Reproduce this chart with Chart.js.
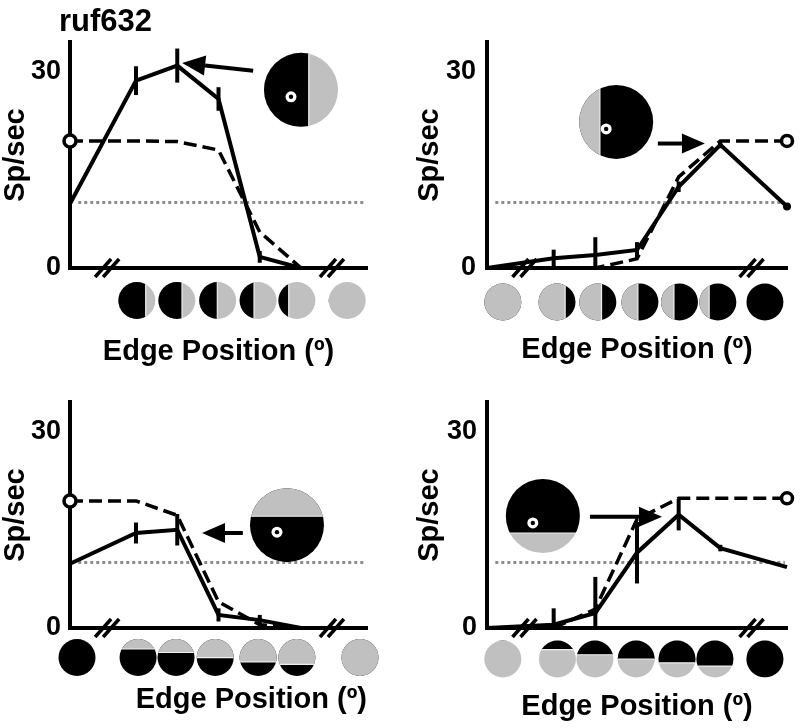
<!DOCTYPE html>
<html>
<head>
<meta charset="utf-8">
<title>ruf632 edge position tuning</title>
<script src="https://cdn.jsdelivr.net/npm/chart.js@4.4.1/dist/chart.umd.min.js"></script>
<style>
    html, body { margin: 0; padding: 0; background: #fff; }
    #wrap { position: relative; width: 801px; height: 728px; }
    #wrap canvas { position: absolute; left: 0; top: 0; }
</style>
</head>
<body>
<div id="wrap">
    <canvas id="p1" width="801" height="728"></canvas>
    <canvas id="p2" width="801" height="728"></canvas>
    <canvas id="p3" width="801" height="728"></canvas>
    <canvas id="p4" width="801" height="728"></canvas>
</div>
<script>
const FONT = "'Liberation Sans', Arial, Helvetica, sans-serif";
const GRAY = '#c0c0c0';

// edge positions tested (same for all four panels, axis broken at both ends)
const xPos = [0, 1.6, 2.6, 3.6, 4.6, 5.6, 7.2];
const yTicks = [0, 30];
const spontaneous = 10;      // dotted line
const breakAt = [0.9, 6.35];

// top-left: vertical edge, black on the left
const p1Solid = [9.8, 28.6, 30.9, 25.8, 1.7, 0, 0];
const p1Err = [0, 2.2, 2.6, 1.8, 0.9, 0, 0];
const p1Dash = [19.4, 19.4, 19.3, 18.0, 5.5, 0, 0];
const p1StimX = [1.62, 2.59, 3.58, 4.56, 5.5, 6.72];
const p1StimEdge = [0.48, 0.28, -0.02, -0.22, -0.44, -1];

// top-right: vertical edge, black on the right
const p2Solid = [0, 1.5, 2.0, 2.75, 12.4, 18.8, 9.4];
const p2Err = [0, 1.3, 2.7, 1.2, 0.8, 0.5, 0];
const p2Dash = [null, 0, 0, 1.4, 13.9, 19.4, 19.4];
const p2StimX = [0.38, 1.68, 2.66, 3.67, 4.62, 5.54, 6.67];
const p2StimEdge = [1, 0.44, 0.2, -0.11, -0.3, -0.47, -1];

// bottom-left: horizontal edge, black below
const p3Solid = [9.8, 14.5, 15.0, 2.0, 1.2, 0, 0];
const p3Err = [0, 1.6, 2.4, 1.0, 0.8, 0, 0];
const p3Dash = [19.4, 19.4, 17.2, 4.0, 0.5, 0, 0];
const p3StimX = [0.17, 1.65, 2.57, 3.52, 4.56, 5.5, 7.03];
const p3StimEdge = [-1, -0.47, -0.27, 0.01, 0.24, 0.37, 1];

// bottom-right: horizontal edge, black above
const p4Solid = [0, 0.5, 2.3, 11.5, 17.3, 12.2, 9.3];
const p4Err = [0, 2.5, 5.5, 4.7, 2.4, 0.5, 0];
const p4Dash = [null, 0, 2.9, 16.6, 19.8, null, 19.8];
const p4StimX = [0.38, 1.69, 2.59, 3.58, 4.56, 5.47, 6.67];
const p4StimEdge = [-1, -0.51, -0.23, 0, 0.21, 0.38, 1];

/**
 * Disc with a straight edge. orient 'v': colA left of edge, 'h': colA above.
 * f = edge offset in radius units (-1..1)
 */
function drawDisc(ctx, cx, cy, r, orient, f, colA, colB) {
    ctx.save();
    ctx.beginPath();
    ctx.arc(cx, cy, r, 0, Math.PI * 2);
    ctx.clip();
    ctx.fillStyle = colB;
    ctx.fillRect(cx - r - 1, cy - r - 1, 2 * r + 2, 2 * r + 2);
    ctx.fillStyle = colA;
    const e = f * r;
    if (orient === 'v') {
        ctx.fillRect(cx - r - 1, cy - r - 1, e + r + 1, 2 * r + 2);
    } else {
        ctx.fillRect(cx - r - 1, cy - r - 1, 2 * r + 2, e + r + 1);
    }
    // thin light seam between the two halves
    if (Math.abs(f) < 1) {
        ctx.strokeStyle = '#eeeeee';
        ctx.lineWidth = 1.2;
        ctx.beginPath();
        if (orient === 'v') {
            ctx.moveTo(cx + e, cy - r);
            ctx.lineTo(cx + e, cy + r);
        } else {
            ctx.moveTo(cx - r, cy + e);
            ctx.lineTo(cx + r, cy + e);
        }
        ctx.stroke();
    }
    ctx.restore();
}

function drawArrow(ctx, x0, y0, x1, y1) {
    const ang = Math.atan2(y1 - y0, x1 - x0);
    const head = 23, half = 10;
    const bx = x1 - head * Math.cos(ang);
    const by = y1 - head * Math.sin(ang);
    ctx.lineWidth = 4;
    ctx.beginPath();
    ctx.moveTo(x0, y0);
    ctx.lineTo(bx, by);
    ctx.stroke();
    ctx.beginPath();
    ctx.moveTo(x1, y1);
    ctx.lineTo(bx + half * Math.sin(ang), by - half * Math.cos(ang));
    ctx.lineTo(bx - half * Math.sin(ang), by + half * Math.cos(ang));
    ctx.closePath();
    ctx.fill();
}

// error bars, axis breaks, stimulus icons, inset and arrow
const decor = {
    id: 'decor',
    afterDatasetsDraw(chart, args, o) {
        const { ctx, scales: { x, y } } = chart;
        ctx.save();
        ctx.strokeStyle = '#000';
        ctx.lineWidth = 4;
        o.err.forEach((e, i) => {
            if (!e) return;
            const v = o.solid[i];
            const px = x.getPixelForValue(xPos[i]);
            ctx.beginPath();
            ctx.moveTo(px, y.getPixelForValue(v + e));
            ctx.lineTo(px, y.getPixelForValue(Math.max(0, v - e)));
            ctx.stroke();
        });
        ctx.restore();
    },
    afterDraw(chart, args, o) {
        const { ctx, scales: { x, y } } = chart;
        const y0 = y.getPixelForValue(0);
        ctx.save();
        ctx.strokeStyle = '#000';
        ctx.fillStyle = '#000';

        // "//" breaks on the x axis
        ctx.lineWidth = 3.5;
        breakAt.forEach(b => {
            const bx = x.getPixelForValue(b);
            [-4, 4].forEach(off => {
                ctx.beginPath();
                ctx.moveTo(bx + off - 8, y0 + 9);
                ctx.lineTo(bx + off + 8, y0 - 9);
                ctx.stroke();
            });
        });

        // stimulus row under the axis
        o.stimX.forEach((sx, i) => {
            drawDisc(ctx, x.getPixelForValue(sx), y0 + o.stimDy, 18.5,
                o.orient, o.stimEdge[i], o.colA, o.colB);
        });

        // large inset stimulus with fixation spot
        const ins = o.inset;
        const cx = x.getPixelForValue(ins.x);
        const cy = y.getPixelForValue(ins.y);
        drawDisc(ctx, cx, cy, 37, o.orient, ins.f, o.colA, o.colB);
        ctx.fillStyle = '#fff';
        ctx.beginPath();
        ctx.arc(cx - 10, cy + 7, 5.5, 0, Math.PI * 2);
        ctx.fill();
        ctx.fillStyle = '#000';
        ctx.beginPath();
        ctx.arc(cx - 10, cy + 7, 2.2, 0, Math.PI * 2);
        ctx.fill();

        const a = o.arrow;
        drawArrow(ctx, x.getPixelForValue(a[0]), y.getPixelForValue(a[1]),
            x.getPixelForValue(a[2]), y.getPixelForValue(a[3]));

        if (o.label) {
            ctx.font = 'bold 31px ' + FONT;
            ctx.textAlign = 'left';
            ctx.textBaseline = 'middle';
            ctx.fillText(o.label, 59, 22);
        }
        ctx.restore();
    }
};

function toPoints(vals) {
    return vals.map((v, i) => ({ x: xPos[i], y: v }));
}

function makePanel(id, p) {
    const ctx = document.getElementById(id).getContext('2d');
    return new Chart(ctx, {
        type: 'line',
        data: {
            datasets: [{
                label: 'response',
                data: toPoints(p.solid),
                borderColor: '#000',
                borderWidth: 4,
                pointRadius: p.solidPts,
                pointBackgroundColor: '#000',
                pointBorderWidth: 0,
                clip: false
            }, {
                label: 'model',
                data: toPoints(p.dash),
                borderColor: '#000',
                borderWidth: 3.5,
                borderDash: [13, 6],
                pointRadius: p.dashPts,
                pointBackgroundColor: '#fff',
                pointBorderColor: '#000',
                pointBorderWidth: 3.5,
                spanGaps: true,
                clip: false
            }, {
                label: 'spontaneous',
                data: [{ x: 0.2, y: spontaneous }, { x: 7.15, y: spontaneous }],
                borderColor: '#8c8c8c',
                borderWidth: 3,
                borderDash: [3, 3],
                pointRadius: 0
            }]
        },
        options: {
            responsive: false,
            animation: false,
            events: [],
            layout: { padding: p.pad },
            plugins: {
                legend: { display: false },
                tooltip: { enabled: false },
                decor: p
            },
            scales: {
                x: {
                    type: 'linear',
                    min: 0,
                    max: 7.2,
                    grid: { display: false, drawTicks: false },
                    border: { color: '#000', width: 4 },
                    ticks: { display: false },
                    title: {
                        display: true,
                        text: 'Edge Position (º)',
                        color: '#000',
                        align: p.xTitleAlign,
                        font: { family: FONT, size: 29, weight: 'bold', lineHeight: 1.1 },
                        padding: { top: 0, bottom: p.xTitlePad }
                    },
                    afterFit: s => { s.height = p.xH; }
                },
                y: {
                    min: 0,
                    max: 34.5,
                    afterBuildTicks: s => { s.ticks = yTicks.map(v => ({ value: v })); },
                    grid: { display: false, drawTicks: false },
                    border: { color: '#000', width: 4 },
                    ticks: {
                        color: '#000',
                        padding: p.tickPad,
                        font: { family: FONT, size: 27, weight: 'bold' }
                    },
                    title: {
                        display: true,
                        text: 'Sp/sec',
                        color: '#000',
                        font: { family: FONT, size: 29, weight: 'bold', lineHeight: 1.1 },
                        padding: { top: p.yTitlePad, bottom: 0 }
                    },
                    afterFit: s => { s.width = p.yW; }
                }
            }
        },
        plugins: [decor]
    });
}

makePanel('p1', {
    solid: p1Solid, err: p1Err, dash: p1Dash,
    solidPts: 0, dashPts: [6, 0, 0, 0, 0, 0, 0],
    stimX: p1StimX, stimEdge: p1StimEdge, stimDy: 32.5,
    orient: 'v', colA: '#000', colB: GRAY,
    inset: { x: 5.6, y: 27.2, f: 0.21 },
    arrow: [4.44, 30.1, 2.72, 31.3],
    label: 'ruf632',
    pad: { left: 0, top: 42, right: 434, bottom: 358 },
    yW: 70, xH: 102, tickPad: 9, yTitlePad: 0, xTitlePad: 2, xTitleAlign: 'center'
});

makePanel('p2', {
    solid: p2Solid, err: p2Err, dash: p2Dash,
    solidPts: [0, 0, 0, 0, 0, 0, 4], dashPts: [0, 0, 0, 0, 0, 0, 5.5],
    stimX: p2StimX, stimEdge: p2StimEdge, stimDy: 34,
    orient: 'v', colA: GRAY, colB: '#000',
    inset: { x: 3.1, y: 22.3, f: -0.44 },
    arrow: [4.1, 19.0, 5.23, 19.0],
    pad: { left: 400, top: 42, right: 14, bottom: 358 },
    yW: 87, xH: 102, tickPad: 11, yTitlePad: 14, xTitlePad: 4, xTitleAlign: 'center'
});

makePanel('p3', {
    solid: p3Solid, err: p3Err, dash: p3Dash,
    solidPts: 0, dashPts: [6, 0, 0, 0, 0, 0, 0],
    stimX: p3StimX, stimEdge: p3StimEdge, stimDy: 29.5,
    orient: 'h', colA: GRAY, colB: '#000',
    inset: { x: 5.26, y: 15.7, f: -0.24 },
    arrow: [4.19, 14.5, 3.2, 14.5],
    pad: { left: 0, top: 402, right: 434, bottom: 0 },
    yW: 70, xH: 100, tickPad: 9, yTitlePad: 0, xTitlePad: 12, xTitleAlign: 'end'
});

makePanel('p4', {
    solid: p4Solid, err: p4Err, dash: p4Dash,
    solidPts: 0, dashPts: [0, 0, 0, 0, 0, 0, 5.5],
    stimX: p4StimX, stimEdge: p4StimEdge, stimDy: 31,
    orient: 'h', colA: '#000', colB: GRAY,
    inset: { x: 1.34, y: 17.1, f: 0.46 },
    arrow: [2.47, 17.0, 4.2, 17.0],
    pad: { left: 400, top: 402, right: 14, bottom: 0 },
    yW: 87, xH: 100, tickPad: 10, yTitlePad: 14, xTitlePad: 5, xTitleAlign: 'center'
});
</script>
</body>
</html>
